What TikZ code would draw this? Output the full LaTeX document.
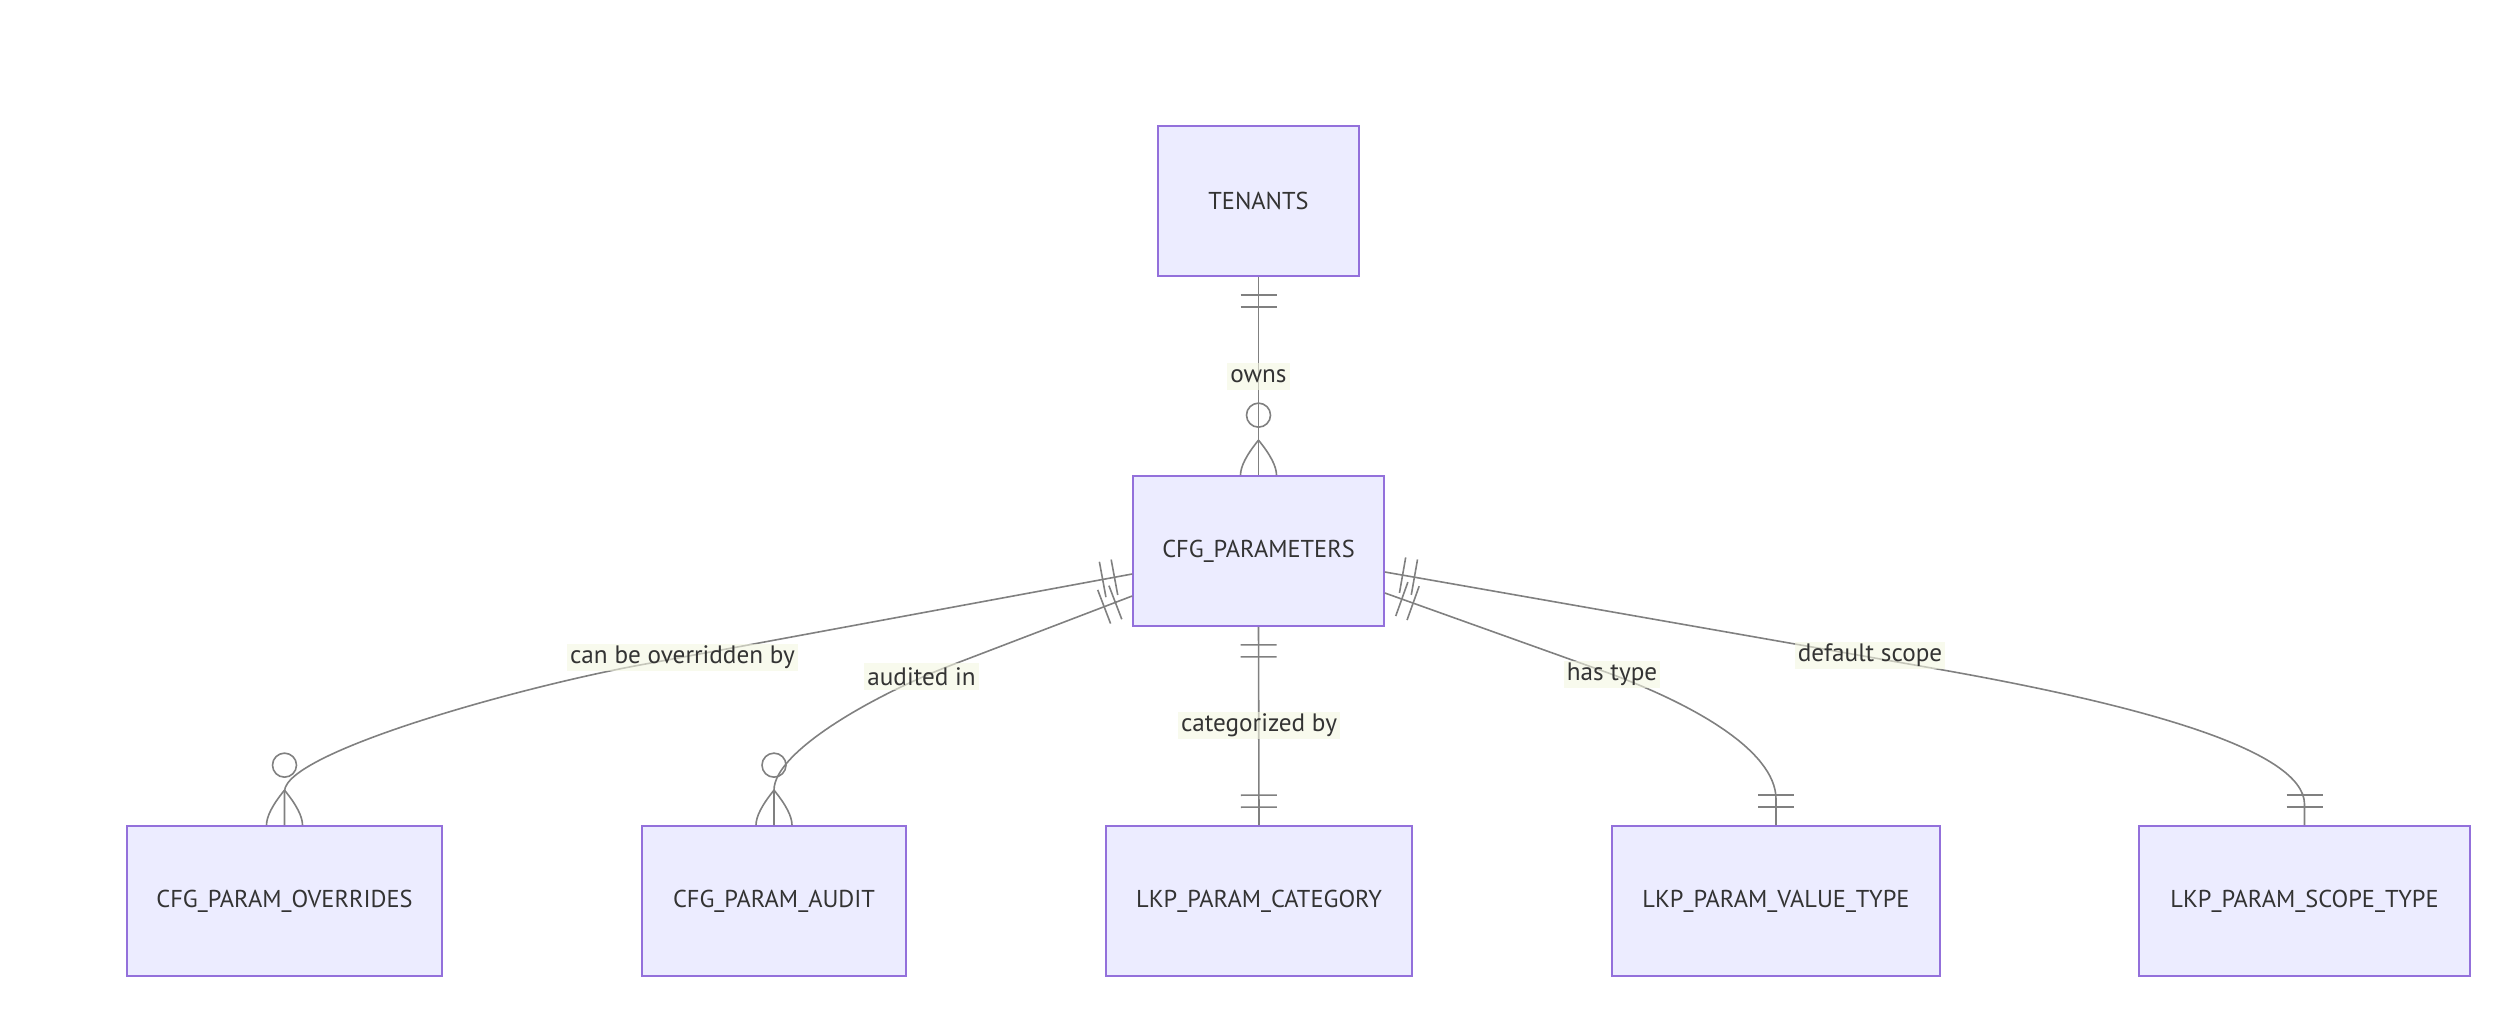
\documentclass[tikz,border=0pt]{standalone}
\usepackage{fontspec}
\setmainfont{PT Sans}
\usetikzlibrary{calc,decorations.markings}
\definecolor{boxfill}{HTML}{ECECFF}
\definecolor{boxline}{HTML}{9370DB}
\definecolor{txt}{HTML}{333333}
\definecolor{lnc}{HTML}{808080}
\definecolor{lblbg}{RGB}{243,246,225}
\tikzset{
  entity/.style={draw=boxline, fill=boxfill, line width=0.85pt, inner sep=0pt,
    minimum height=75pt, text=txt, font=\fontsize{12.2pt}{14pt}\selectfont},
  edge/.style={draw=lnc, line width=0.8pt},
  rel/.style={fill=lblbg, fill opacity=0.6, text opacity=1, text=txt, inner xsep=1.5pt,
    inner ysep=0pt, minimum height=13.5pt, font=\fontsize{12.6pt}{14pt}\selectfont},
  onestart/.style={postaction={decorate, decoration={markings,
    mark=at position 9pt with {\draw[edge] (0,-9pt)--(0,9pt);},
    mark=at position 15pt with {\draw[edge] (0,-9pt)--(0,9pt);}}}},
  oneend/.style={postaction={decorate, decoration={markings,
    mark=at position -9pt with {\draw[edge] (0,-9pt)--(0,9pt);},
    mark=at position -15pt with {\draw[edge] (0,-9pt)--(0,9pt);}}}},
  pics/zmany/.style={code={
    \draw[edge] (0,-35) .. controls (-12,-20.3) and (-18,-8.7) .. (-18,0);
    \draw[edge] (0,-35) .. controls (12,-20.3) and (18,-8.7) .. (18,0);
    \draw[edge] (0,-60) circle[radius=6pt];
  }}
}
\begin{document}
\begin{tikzpicture}[x=0.5pt,y=-0.5pt]
\useasboundingbox (0,0) rectangle (2506,1012);
% entities
\node[entity, minimum width=100.5pt] (ten) at (1258.5,201) {TENANTS};
\node[entity, minimum width=125.5pt] (cfg) at (1258.5,551) {CFG\_PARAMETERS};
\node[entity, minimum width=157.5pt] (ov)  at (284.5,901) {CFG\_PARAM\_OVERRIDES};
\node[entity, minimum width=132pt]   (au)  at (774,901) {CFG\_PARAM\_AUDIT};
\node[entity, minimum width=153pt]   (cat) at (1259,901) {LKP\_PARAM\_CATEGORY};
\node[entity, minimum width=164pt]   (vt)  at (1776,901) {LKP\_PARAM\_VALUE\_TYPE};
\node[entity, minimum width=165.5pt] (sc)  at (2304.5,901) {LKP\_PARAM\_SCOPE\_TYPE};
% connectors
\draw[edge, onestart] (ten.south) -- (cfg.north);
\pic at (cfg.north) {zmany};
\draw[edge, onestart, oneend] (cfg.south) -- (cat.north);
\draw[edge, onestart] ($(cfg.west)+(0,23)$) -- (640,665)
  .. controls (520,687) and (286,752) .. ($(ov.north)+(0,-34)$) -- (ov.north);
\pic at (ov.north) {zmany};
\draw[edge, onestart] ($(cfg.west)+(0,45)$) -- (957,663)
  .. controls (877,693) and (774,751) .. ($(au.north)+(0,-35)$) -- (au.north);
\pic at (au.north) {zmany};
\draw[edge, onestart, oneend] ($(cfg.east)+(0,42)$) -- (1600,670)
  .. controls (1690,702) and (1776,750) .. ($(vt.north)+(0,-26)$) -- (vt.north);
\draw[edge, onestart, oneend] ($(cfg.east)+(0,21)$) -- (1943,670)
  .. controls (2140,705) and (2304,750) .. ($(sc.north)+(0,-21)$) -- (sc.north);
% labels
\node[rel] (l1) at (1258.5,376) {owns};
\node[rel] (l2) at (682.5,657.5) {can be overridden by};
\node[rel] (l3) at (921.5,676.5) {audited in};
\node[rel] (l4) at (1259,725.5) {categorized by};
\node[rel] (l5) at (1612,674.5) {has type};
\node[rel] (l6) at (1870,655.5) {default scope};
\end{tikzpicture}
\end{document}
